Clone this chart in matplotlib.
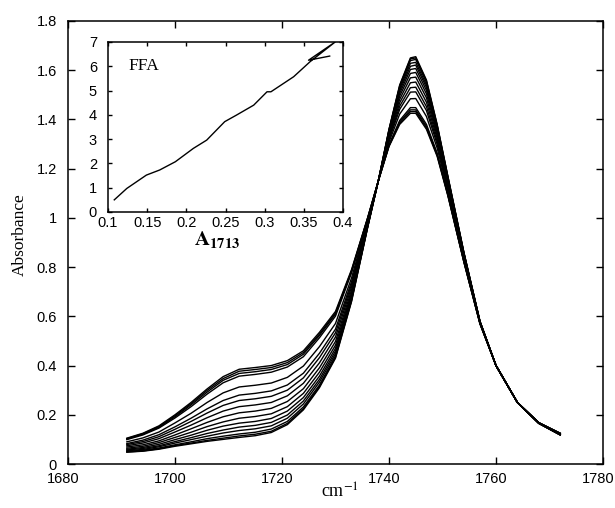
import matplotlib
matplotlib.use("Agg")
import matplotlib.pyplot as plt
import matplotlib.transforms as mtransforms
from matplotlib.ticker import FuncFormatter

plt.rcParams['font.family'] = ['Liberation Sans', 'DejaVu Sans']
plt.rcParams['mathtext.fontset'] = 'stix'

# ---------------- data ----------------
wavenumber = [1691, 1694, 1697, 1700, 1703, 1706, 1709, 1712, 1715, 1718, 1721, 1724, 1727, 1730,
              1733, 1736, 1738, 1740, 1742, 1744, 1745, 1747, 1749, 1751, 1754, 1757, 1760, 1764,
              1768, 1772]

spec01 = [0.048, 0.052, 0.060, 0.072, 0.082, 0.092, 0.100, 0.108, 0.115, 0.128, 0.160, 0.220, 0.310, 0.430,
          0.660, 0.960, 1.150, 1.360, 1.540, 1.650, 1.655, 1.560, 1.380, 1.170, 0.860, 0.580, 0.400, 0.250,
          0.165, 0.118]
spec02 = [0.049, 0.053, 0.062, 0.075, 0.085, 0.096, 0.105, 0.114, 0.121, 0.133, 0.165, 0.225, 0.315, 0.434,
          0.663, 0.961, 1.150, 1.359, 1.537, 1.646, 1.650, 1.556, 1.377, 1.168, 0.859, 0.580, 0.400, 0.250,
          0.165, 0.118]
spec03 = [0.051, 0.056, 0.065, 0.078, 0.090, 0.103, 0.113, 0.122, 0.129, 0.142, 0.173, 0.232, 0.321, 0.440,
          0.667, 0.962, 1.150, 1.357, 1.532, 1.639, 1.644, 1.550, 1.374, 1.166, 0.858, 0.580, 0.400, 0.250,
          0.165, 0.118]
spec04 = [0.054, 0.059, 0.070, 0.085, 0.099, 0.113, 0.126, 0.136, 0.143, 0.155, 0.186, 0.244, 0.333, 0.449,
          0.673, 0.964, 1.150, 1.353, 1.524, 1.628, 1.632, 1.540, 1.367, 1.162, 0.856, 0.579, 0.400, 0.250,
          0.165, 0.119]
spec05 = [0.057, 0.063, 0.074, 0.091, 0.107, 0.124, 0.138, 0.150, 0.157, 0.169, 0.199, 0.256, 0.344, 0.459,
          0.680, 0.966, 1.150, 1.350, 1.516, 1.616, 1.621, 1.530, 1.361, 1.158, 0.854, 0.579, 0.400, 0.250,
          0.166, 0.119]
spec06 = [0.060, 0.067, 0.080, 0.099, 0.117, 0.137, 0.154, 0.166, 0.173, 0.185, 0.215, 0.270, 0.357, 0.470,
          0.687, 0.968, 1.150, 1.345, 1.506, 1.603, 1.607, 1.518, 1.353, 1.153, 0.852, 0.578, 0.400, 0.250,
          0.166, 0.120]
spec07 = [0.064, 0.072, 0.087, 0.108, 0.129, 0.152, 0.171, 0.186, 0.193, 0.204, 0.233, 0.287, 0.373, 0.483,
          0.696, 0.971, 1.150, 1.340, 1.495, 1.587, 1.591, 1.504, 1.344, 1.148, 0.849, 0.577, 0.400, 0.250,
          0.166, 0.120]
spec08 = [0.069, 0.078, 0.094, 0.118, 0.143, 0.169, 0.192, 0.208, 0.215, 0.226, 0.254, 0.306, 0.391, 0.498,
          0.707, 0.974, 1.150, 1.335, 1.482, 1.569, 1.572, 1.488, 1.333, 1.141, 0.846, 0.576, 0.400, 0.250,
          0.166, 0.121]
spec09 = [0.074, 0.085, 0.103, 0.130, 0.158, 0.188, 0.215, 0.233, 0.240, 0.250, 0.277, 0.328, 0.411, 0.516,
          0.719, 0.978, 1.150, 1.329, 1.468, 1.549, 1.552, 1.470, 1.322, 1.134, 0.842, 0.576, 0.400, 0.250,
          0.166, 0.121]
spec10 = [0.079, 0.091, 0.111, 0.141, 0.173, 0.207, 0.238, 0.258, 0.265, 0.275, 0.300, 0.350, 0.432, 0.533,
          0.730, 0.982, 1.150, 1.322, 1.454, 1.529, 1.531, 1.452, 1.310, 1.127, 0.838, 0.575, 0.400, 0.250,
          0.167, 0.122]
spec11 = [0.083, 0.097, 0.119, 0.151, 0.186, 0.224, 0.258, 0.280, 0.287, 0.297, 0.321, 0.369, 0.450, 0.548,
          0.741, 0.985, 1.150, 1.317, 1.441, 1.511, 1.512, 1.436, 1.299, 1.120, 0.835, 0.574, 0.400, 0.250,
          0.167, 0.122]
spec12 = [0.090, 0.106, 0.130, 0.167, 0.206, 0.250, 0.289, 0.313, 0.320, 0.329, 0.352, 0.398, 0.477, 0.571,
          0.756, 0.990, 1.150, 1.308, 1.422, 1.484, 1.485, 1.412, 1.284, 1.111, 0.830, 0.573, 0.400, 0.250,
          0.167, 0.123]
spec13 = [0.099, 0.118, 0.146, 0.187, 0.233, 0.284, 0.330, 0.357, 0.364, 0.373, 0.394, 0.436, 0.513, 0.601,
          0.777, 0.996, 1.150, 1.297, 1.396, 1.448, 1.448, 1.380, 1.263, 1.098, 0.824, 0.571, 0.400, 0.250,
          0.168, 0.124]
spec14 = [0.102, 0.121, 0.149, 0.192, 0.240, 0.292, 0.340, 0.368, 0.375, 0.384, 0.404, 0.446, 0.522, 0.609,
          0.782, 0.998, 1.150, 1.294, 1.390, 1.439, 1.439, 1.372, 1.258, 1.095, 0.822, 0.571, 0.400, 0.250,
          0.168, 0.125]
spec15 = [0.103, 0.123, 0.152, 0.196, 0.245, 0.299, 0.347, 0.377, 0.384, 0.392, 0.412, 0.453, 0.528, 0.614,
          0.786, 0.999, 1.150, 1.292, 1.385, 1.432, 1.432, 1.366, 1.254, 1.092, 0.821, 0.570, 0.400, 0.250,
          0.168, 0.125]
spec16 = [0.105, 0.125, 0.155, 0.200, 0.250, 0.305, 0.355, 0.385, 0.392, 0.400, 0.420, 0.460, 0.535, 0.620,
          0.790, 1.000, 1.150, 1.290, 1.380, 1.425, 1.425, 1.360, 1.250, 1.090, 0.820, 0.570, 0.400, 0.250,
          0.168, 0.125]

spectra = [spec01, spec02, spec03, spec04, spec05, spec06, spec07, spec08,
           spec09, spec10, spec11, spec12, spec13, spec14, spec15, spec16]

# inset: FFA vs A1713
a1713 = [0.108, 0.124, 0.149, 0.166, 0.186, 0.209, 0.226, 0.249, 0.264, 0.286, 0.303, 0.308,
         0.337, 0.358, 0.390, 0.356, 0.383]
ffa = [0.50, 0.97, 1.52, 1.73, 2.07, 2.62, 2.96, 3.72, 3.99, 4.40, 4.95, 4.95,
       5.57, 6.19, 7.00, 6.25, 6.42]

main_xticks = [1680, 1700, 1720, 1740, 1760, 1780]
main_yticks = [0, 0.2, 0.4, 0.6, 0.8, 1.0, 1.2, 1.4, 1.6, 1.8]
inset_xticks = [0.1, 0.15, 0.2, 0.25, 0.3, 0.35, 0.4]
inset_yticks = [0, 1, 2, 3, 4, 5, 6, 7]

# ---------------- figure ----------------
W, H = 615, 508
fig = plt.figure(figsize=(W / 100, H / 100), dpi=100)

def px_rect(l, t, r, b):
    return [l / W, 1 - b / H, (r - l) / W, (b - t) / H]

fmt = FuncFormatter(lambda v, p: '%g' % v)

ax = fig.add_axes(px_rect(68, 21, 603, 464))
for s in spectra:
    ax.plot(wavenumber, s, color='black', lw=1.0)
ax.set_xlim(1680, 1780)
ax.set_ylim(0, 1.8)
ax.set_xticks(main_xticks)
ax.set_yticks(main_yticks)
ax.yaxis.set_major_formatter(fmt)
ax.tick_params(direction='in', top=True, right=True, length=5, width=1.0,
               labelsize=10.5)
ax.tick_params(axis='y', pad=8)
ax.tick_params(axis='x', pad=6)
for sp in ax.spines.values():
    sp.set_linewidth(1.1)
shift = mtransforms.ScaledTranslation(-5 / 100, 0, fig.dpi_scale_trans)
for lab in ax.get_xticklabels():
    lab.set_transform(lab.get_transform() + shift)

fig.text(20 / W, 1 - 235 / H, 'Absorbance', rotation=90, ha='center', va='center',
         family=['Liberation Serif'], fontsize=12.5)
fig.text(340 / W, 1 - 492 / H, 'cm$^{-1}$', ha='center', va='center',
         family=['Liberation Serif'], fontsize=13)

# inset
ins = fig.add_axes(px_rect(108, 42, 343, 212))
ins.plot(a1713, ffa, color='black', lw=1.0)
ins.set_xlim(0.1, 0.4)
ins.set_ylim(0, 7)
ins.set_xticks(inset_xticks)
ins.set_yticks(inset_yticks)
ins.xaxis.set_major_formatter(fmt)
ins.tick_params(direction='in', top=True, right=True, length=3, width=1.0,
                labelsize=10.5)
ins.tick_params(axis='y', pad=8)
ins.tick_params(axis='x', pad=3)
for sp in ins.spines.values():
    sp.set_linewidth(1.1)
ins.text(0.085, 0.86, 'FFA', transform=ins.transAxes, ha='left', va='center',
         family=['Liberation Serif'], fontsize=12.5)
fig.text(217 / W, 1 - 240 / H, r'$\mathbf{A_{1713}}$', ha='center', va='center', fontsize=15)

fig.savefig('out.png', dpi=100)
